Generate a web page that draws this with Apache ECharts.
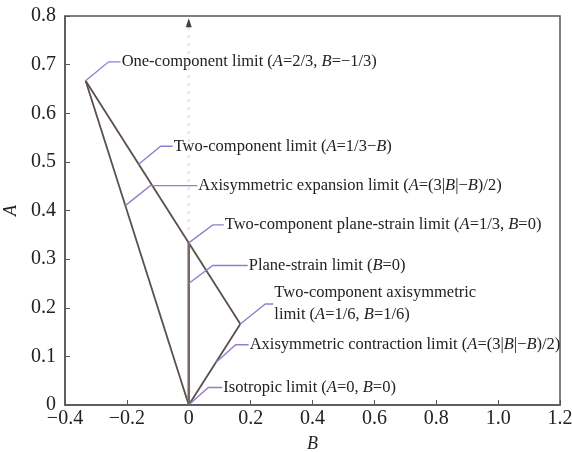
<!DOCTYPE html>
<html><head><meta charset="utf-8">
<script src="https://cdn.jsdelivr.net/npm/echarts@6/dist/echarts.min.js"></script>
<style>html,body{margin:0;padding:0;background:#fff}#c{width:572px;height:452px}</style>
</head><body><div id="c"></div>
<script>
// ---- data ----
const xTicks = [-0.4, -0.2, 0, 0.2, 0.4, 0.6, 0.8, 1.0, 1.2];
const yTicks = [0, 0.1, 0.2, 0.3, 0.4, 0.5, 0.6, 0.7, 0.8];
const oneComp = [-1/3, 2/3];
const origin = [0, 0];
const twoCompAxi = [1/6, 1/6];
const twoCompPlane = [0, 1/3];
const axiExpansion = [oneComp, origin];           // A = -2B
const twoCompLimit = [oneComp, twoCompAxi];       // A = 1/3 - B
const axiContraction = [origin, twoCompAxi];      // A = B
const planeStrain = [origin, twoCompPlane];       // B = 0
const guideLine = [[0, 0.36], [0, 0.79]];
const arrowTip = [[0, 0.79]];
// annotation anchors (B, A) and labels
const annAnchors = [[-1/3, 2/3], [-0.162, 0.495], [-0.205, 0.41], [0, 1/3], [0, 0.25], [1/6, 1/6], [0.087, 0.087], [0.005, 0.003]];
const annTexts = [
  'One-component limit ({i|A}=2/3, {i|B}=−1/3)',
  'Two-component limit ({i|A}=1/3−{i|B})',
  'Axisymmetric expansion limit ({i|A}=(3|{i|B}|−{i|B})/2)',
  'Two-component plane-strain limit ({i|A}=1/3, {i|B}=0)',
  'Plane-strain limit ({i|B}=0)',
  'Two-component axisymmetric\nlimit ({i|A}=1/6, {i|B}=1/6)',
  'Axisymmetric contraction limit ({i|A}=(3|{i|B}|−{i|B})/2)',
  'Isotropic limit ({i|A}=0, {i|B}=0)'
];
// leader styling: [dx, dy, horizontal length]
const annLeader = [[23,-19,12],[22,-18,12],[25,-20,47],[24,-18,11],[24,-18,35],[25,-20,8],[20,-18,13],[18,-16,14]];

const FONT = '"Liberation Serif","DejaVu Serif",serif';
const LINE = '#5b4f4c';
const PURPLE = '#8e80cc';

function fmt(v){
  if (Math.abs(v) < 1e-9) return '0';
  let s = (Math.abs(v) >= 0.999 ? v.toFixed(1) : String(+v.toFixed(1)));
  return s.replace('-', '−');
}

const chart = echarts.init(document.getElementById('c'), null, {renderer:'canvas'});
const lineSeries = (data, color, width) => ({
  type:'line', data, symbol:'none', silent:true, animation:false,
  lineStyle:{color, width}, z:3
});

chart.setOption({
  animation:false,
  grid:{left:65, right:12, top:16, bottom:47, show:true, borderColor:'#555', borderWidth:1.5,
        containLabel:false, outerBoundsMode:'none'},
  xAxis:{type:'value', min:-0.4, max:1.2, interval:0.2,
    name:'B', nameLocation:'middle', nameGap:30,
    nameTextStyle:{fontFamily:FONT, fontStyle:'italic', fontSize:18, color:'#222'},
    axisLine:{onZero:false, lineStyle:{color:'#555', width:1.5}},
    axisTick:{inside:true, length:5, lineStyle:{color:'#555'}},
    axisLabel:{fontFamily:FONT, fontSize:20, color:'#222', margin:4, formatter:fmt},
    splitLine:{show:false}},
  yAxis:{type:'value', min:0, max:0.8, interval:0.1,
    name:'A', nameLocation:'middle', nameGap:44,
    nameTextStyle:{fontFamily:FONT, fontStyle:'italic', fontSize:18, color:'#222'},
    axisLine:{onZero:false, lineStyle:{color:'#555', width:1.5}},
    axisTick:{inside:true, length:5, lineStyle:{color:'#555'}},
    axisLabel:{fontFamily:FONT, fontSize:20, color:'#222', margin:9, formatter:fmt},
    splitLine:{show:false}},
  series:[
    {type:'line', data:guideLine, symbol:'none', silent:true, color:'#e2e2e2',
     lineStyle:{color:'#e2e2e2', width:2, type:[3,5]}, z:2},
    {type:'scatter', data:arrowTip, symbol:'triangle', symbolSize:[6,9], symbolOffset:[0,2], silent:true,
     itemStyle:{color:'#111'}, z:4},
    lineSeries(axiExpansion, LINE, 1.8),
    lineSeries(twoCompLimit, LINE, 1.8),
    lineSeries(axiContraction, LINE, 1.8),
    lineSeries(planeStrain, '#766a69', 2.6),
    {type:'custom', silent:true, z:5,
     data: annAnchors.map((p,i)=>[p[0], p[1], i]),
     renderItem:(params, api)=>{
       const i = api.value(2);
       const pt = api.coord([api.value(0), api.value(1)]);
       const [dx, dy, hl] = annLeader[i];
       const ex = pt[0]+dx, ey = pt[1]+dy;
       return {type:'group', children:[
         {type:'polyline', shape:{points:[pt,[ex,ey],[ex+hl,ey]]}, style:{stroke:PURPLE, lineWidth:1.4, fill:null}},
         {type:'text', x:ex+hl+1, y:ey, style:{text:annTexts[i], fontFamily:FONT, fontSize:16.5, fill:'#222',
            verticalAlign:'middle', align:'left', lineHeight:22,
            rich:{i:{fontStyle:'italic', fontFamily:FONT, fontSize:16.5, fill:'#222'}}}}
       ]};
     }}
  ]
});
</script></body></html>
